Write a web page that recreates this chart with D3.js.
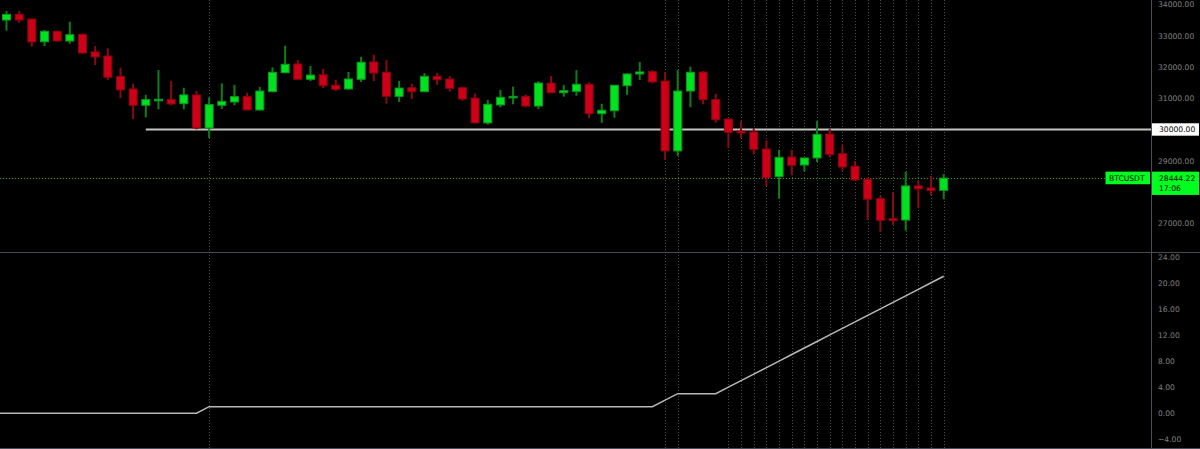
<!doctype html>
<html lang="en">
<head>
<meta charset="utf-8">
<script src="https://cdn.jsdelivr.net/npm/d3@7"></script>
<style>
  html, body { margin: 0; padding: 0; background: #000; }
  svg { display: block; }
  text { font-family: "DejaVu Sans", sans-serif; }
</style>
</head>
<body>
<script>
// daily candles, oldest first
const opens = [33500, 33680, 33530, 32805, 33140, 32830, 33040, 32480, 32350, 31700,
  31295, 30775, 30920, 30955, 30825, 31105, 30050, 30775, 30880, 31055,
  30625, 31210, 31815, 32095, 31605, 31750, 31415, 31295, 31605, 32160,
  31830, 31060, 31335, 31210, 31700, 31615, 31335, 31005, 30210, 30785,
  31015, 31060, 30750, 31485, 31175, 31220, 31445, 30505, 30600, 31400,
  31775, 31850, 31550, 29315, 31230, 31835, 30955, 30335, 29950, 29920,
  29375, 28490, 29120, 28865, 29090, 29855, 29225, 28825, 28405, 27790,
  27150, 27105, 28195, 28130, 28055];
const highs = [33790, 33790, 33555, 33180, 33150, 33445, 33075, 32670, 32595, 31975,
  31465, 31105, 31900, 31550, 31335, 31230, 31030, 31475, 31425, 31175,
  31360, 31990, 32680, 32220, 32030, 31935, 31585, 31840, 32325, 32390,
  32220, 31550, 31465, 31805, 31805, 31710, 31370, 31155, 30945, 31265,
  31370, 31115, 31540, 31710, 31425, 31900, 31510, 30825, 31415, 31795,
  32160, 31895, 31830, 31900, 32010, 31870, 31145, 30340, 30270, 30050,
  29655, 29345, 29345, 29090, 30270, 30025, 29505, 28995, 28470, 27875,
  27990, 28650, 28355, 28515, 28575];
const lows = [33160, 33415, 32650, 32670, 32820, 32745, 32415, 32060, 31585, 31005,
  30335, 30390, 30645, 30775, 30645, 30005, 29730, 30655, 30775, 30620,
  30600, 31205, 31810, 31600, 31550, 31325, 31230, 31265, 31520, 31550,
  30825, 30880, 30975, 31205, 31425, 31210, 30920, 30205, 30155, 30710,
  30805, 30710, 30655, 31175, 31050, 31080, 30360, 30210, 30375, 31105,
  31585, 31475, 29035, 29155, 30710, 30805, 30215, 29420, 29730, 29205,
  28195, 27790, 28535, 28650, 28960, 29110, 28675, 28385, 27105, 26715,
  26955, 26765, 27480, 27905, 27770];
const closes = [33680, 33500, 32800, 33140, 32830, 33030, 32445, 32320, 31670, 31265,
  30775, 30955, 30965, 30815, 31105, 30050, 30795, 30900, 31050, 30625,
  31230, 31830, 32085, 31605, 31740, 31400, 31285, 31615, 32150, 31805,
  31060, 31325, 31210, 31700, 31590, 31315, 30975, 30210, 30805, 31030,
  31060, 30750, 31485, 31175, 31240, 31445, 30505, 30615, 31415, 31775,
  31840, 31520, 29315, 31230, 31830, 30955, 30315, 29910, 29890, 29365,
  28460, 29110, 28855, 29090, 29845, 29205, 28800, 28385, 27770, 27095,
  27085, 28195, 28100, 28045, 28444.22];

// counter shown in the lower window (first value belongs to the bar just off screen)
const counter = [0,
  0, 0, 0, 0, 0, 0, 0, 0, 0, 0, 0, 0, 0, 0, 0, 0,
  1, 1, 1, 1, 1, 1, 1, 1, 1, 1, 1, 1, 1, 1, 1, 1, 1, 1,
  1, 1, 1, 1, 1, 1, 1, 1, 1, 1, 1, 1, 1, 1, 1, 1, 1, 1,
  2, 3, 3, 3, 3,
  4, 5, 6, 7, 8, 9, 10, 11, 12, 13, 14, 15, 16, 17, 18, 19, 20, 21];

const priceTicks = [34000, 33000, 32000, 31000, 29000, 27000];
const counterTicks = [24, 20, 16, 12, 8, 4, 0, -4];
const levelPrice = 30000;
const levelStart = 11;
const symbol = "BTCUSDT";
const timeLeft = "17:06";

const width = 1200, height = 449;
const plotRight = 1151;
const sepY = 252;

const colors = {
  up: "#00e11f", upEdge: "#0b9a1c", upWick: "#0d7f19",
  down: "#cc0016", downEdge: "#8e0010", downWick: "#8a0a14",
  axis: "#4a4a56", text: "#808080", vline: "#4a4a4a"
};

const svg = d3.select("body")
  .append("svg")
  .attr("width", width)
  .attr("height", height);

svg.append("rect")
  .attr("width", width)
  .attr("height", height)
  .attr("fill", "#000");

svg.append("clipPath")
  .attr("id", "plot")
  .append("rect")
  .attr("width", plotRight)
  .attr("height", height);

const x = d3.scaleLinear().domain([0, opens.length - 1]).range([6.5, 943.7]);
const y = d3.scaleLinear().domain([27000, 34000]).range([223.3, 4.4]);
const yc = d3.scaleLinear().domain([-4, 24]).range([439.3, 256.7]);

const candles = opens.map((o, i) => ({
  i, o, h: highs[i], l: lows[i], c: closes[i], up: closes[i] >= o
}));

// counter index k sits on bar k - 1
const counterPts = counter.map((v, k) => ({i: k - 1, v}));

// dotted verticals where the counter steps up
const marks = counterPts.filter((d, k) => k > 0 && d.v > counterPts[k - 1].v);

const plot = svg.append("g").attr("clip-path", "url(#plot)");

plot.append("g")
  .selectAll("line")
  .data(marks)
  .enter()
  .append("line")
  .attr("x1", d => Math.round(x(d.i)) + 0.5)
  .attr("x2", d => Math.round(x(d.i)) + 0.5)
  .attr("y1", 0)
  .attr("y2", height)
  .attr("stroke", colors.vline)
  .attr("stroke-dasharray", "1,2");

// support level
plot.append("line")
  .attr("x1", x(levelStart))
  .attr("x2", plotRight)
  .attr("y1", y(levelPrice))
  .attr("y2", y(levelPrice))
  .attr("stroke", "#c4c4c4")
  .attr("stroke-width", 2);

// last price line
const last = closes[closes.length - 1];
plot.append("line")
  .attr("x1", 0)
  .attr("x2", 1105)
  .attr("y1", Math.round(y(last)) + 0.5)
  .attr("y2", Math.round(y(last)) + 0.5)
  .attr("stroke", "#12b012")
  .attr("stroke-dasharray", "1,2");

const gCandles = plot.append("g").attr("class", "candles");

gCandles.selectAll(".wick")
  .data(candles)
  .enter()
  .append("line")
  .attr("class", "wick")
  .attr("x1", d => x(d.i))
  .attr("x2", d => x(d.i))
  .attr("y1", d => y(d.h))
  .attr("y2", d => y(d.l))
  .attr("stroke", d => d.up ? colors.upWick : colors.downWick)
  .attr("stroke-width", 2);

gCandles.selectAll(".body")
  .data(candles)
  .enter()
  .append("rect")
  .attr("class", "body")
  .attr("x", d => x(d.i) - 4)
  .attr("width", 8)
  .attr("y", d => Math.min(y(d.o), y(d.c)))
  .attr("height", d => Math.max(1.5, Math.abs(y(d.o) - y(d.c))))
  .attr("fill", d => d.up ? colors.up : colors.down)
  .attr("stroke", d => d.up ? colors.upEdge : colors.downEdge)
  .attr("stroke-width", 1);

// counter line
plot.append("path")
  .datum(counterPts)
  .attr("fill", "none")
  .attr("stroke", "#b8b8b8")
  .attr("stroke-width", 1.5)
  .attr("d", d3.line().x(d => x(d.i)).y(d => yc(d.v)));

// frame
svg.append("line")
  .attr("x1", 0).attr("x2", width)
  .attr("y1", sepY + 0.5).attr("y2", sepY + 0.5)
  .attr("stroke", colors.axis);
svg.append("line")
  .attr("x1", 0).attr("x2", width)
  .attr("y1", height - 0.5).attr("y2", height - 0.5)
  .attr("stroke", colors.axis);
svg.append("line")
  .attr("x1", plotRight + 0.5).attr("x2", plotRight + 0.5)
  .attr("y1", 0).attr("y2", height)
  .attr("stroke", colors.axis);

// axes
const priceAxis = d3.axisRight(y)
  .tickValues(priceTicks)
  .tickSize(0)
  .tickPadding(7)
  .tickFormat(d3.format(".2f"));

const counterAxis = d3.axisRight(yc)
  .tickValues(counterTicks)
  .tickSize(0)
  .tickPadding(7)
  .tickFormat(d3.format(".2f"));

[[priceAxis, "price"], [counterAxis, "counter"]].forEach(([ax, name]) => {
  const g = svg.append("g")
    .attr("class", name)
    .attr("transform", `translate(${plotRight}, 0)`)
    .call(ax);
  g.select(".domain").remove();
  g.selectAll("text")
    .attr("fill", colors.text)
    .attr("font-size", 7.6)
    .attr("font-family", "DejaVu Sans, sans-serif");
});

// level tag
const levelY = y(levelPrice);
svg.append("rect")
  .attr("x", plotRight + 1)
  .attr("y", levelY - 6.2)
  .attr("width", 47)
  .attr("height", 12.4)
  .attr("fill", "#fff");
svg.append("text")
  .attr("x", plotRight + 8)
  .attr("y", levelY)
  .attr("dy", "0.35em")
  .attr("font-size", 7.6)
  .attr("fill", "#000")
  .text(d3.format(".2f")(levelPrice));

// last price tags
const lastY = y(last);
svg.append("rect")
  .attr("x", 1105.5)
  .attr("y", lastY - 6.5)
  .attr("width", 44.5)
  .attr("height", 12.6)
  .attr("fill", "#00ff1e");
svg.append("text")
  .attr("x", 1109)
  .attr("y", lastY)
  .attr("dy", "0.35em")
  .attr("font-size", 7.6)
  .attr("fill", "#000")
  .text(symbol);

svg.append("rect")
  .attr("x", plotRight + 1)
  .attr("y", lastY - 6.5)
  .attr("width", 47)
  .attr("height", 23.3)
  .attr("fill", "#00ff1e");
svg.append("text")
  .attr("x", plotRight + 8)
  .attr("y", lastY)
  .attr("dy", "0.35em")
  .attr("font-size", 7.6)
  .attr("fill", "#000")
  .text(d3.format(".2f")(last));
svg.append("text")
  .attr("x", plotRight + 8)
  .attr("y", lastY + 10.5)
  .attr("dy", "0.35em")
  .attr("font-size", 7.6)
  .attr("fill", "#000")
  .text(timeLeft);
</script>
</body>
</html>
